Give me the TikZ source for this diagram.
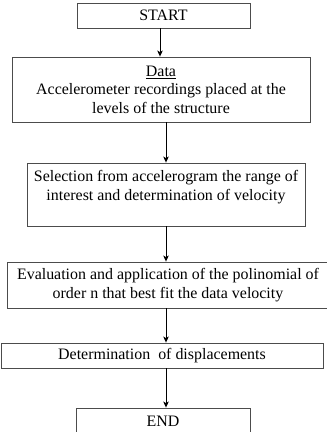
\documentclass[tikz,border=0pt]{standalone}
\usepackage{fontspec}
\setmainfont{Liberation Serif}
\usetikzlibrary{arrows.meta, positioning}

\begin{document}
\begin{tikzpicture}[
    x=1bp, y=1bp,
    stepbox/.style={rectangle, draw=black!70, line width=0.9pt, fill=white, align=center,
        inner sep=0pt, font=\fontsize{16}{18.5}\selectfont},
    arrow/.style={-{Stealth[length=6pt, width=5.5pt, inset=1.5pt]}, line width=0.9pt, black},
]
\clip (0,0) rectangle (327,432);
\fill[white] (0,0) rectangle (327,432);

% Steps of the procedure
\node[stepbox, minimum width=173bp, minimum height=25bp] (start) at (163.5, 416.5) {START};
\node[stepbox, minimum width=298bp, minimum height=65bp] (data) at (161, 342.5)
    {\underline{Data}\\Accelerometer recordings placed at the\\levels of the structure};
\node[stepbox, minimum width=278bp, minimum height=63bp] (select) at (166, 237.5)
    {Selection from accelerogram the range of\\interest and determination of velocity\\~};
\node[stepbox, minimum width=322bp, minimum height=46bp] (fit) at (168, 147)
    {Evaluation and application of the polinomial of\\order n that best fit the data velocity};
\node[stepbox, minimum width=322bp, minimum height=25bp] (displ) at (162, 76.5)
    {Determination\ \ of displacements};
\node[stepbox, minimum width=174bp, minimum height=26bp] (end) at (163, 11) {END};

% Flow between the steps
\coordinate (col) at (166, 0);
\draw[arrow] ([xshift=-3.5bp]start.south) -- ([xshift=-3.5bp]start.south |- data.north);
\draw[arrow] (data.south -| col) -- (select.north -| col);
\draw[arrow] (select.south -| col) -- (fit.north -| col);
\draw[arrow] (fit.south -| col) -- (displ.north -| col);
\draw[arrow] (displ.south -| col) -- (end.north -| col);

\end{tikzpicture}
\end{document}
